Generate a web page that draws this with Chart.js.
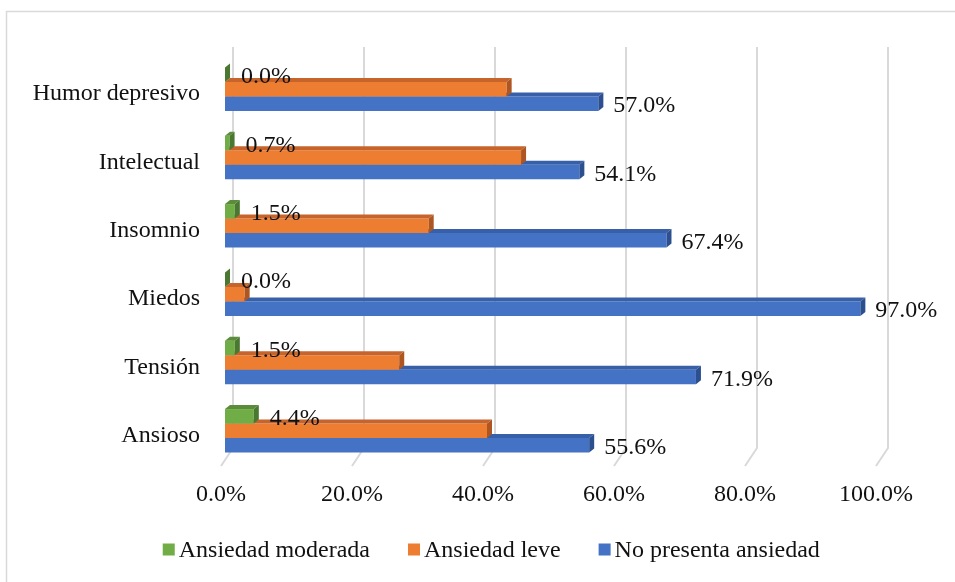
<!DOCTYPE html>
<html>
<head>
<meta charset="utf-8">
<script src="https://cdn.jsdelivr.net/npm/chart.js@4/dist/chart.umd.min.js"></script>
<style>
  html, body { margin: 0; padding: 0; background: #ffffff; }
  #wrap { width: 955px; height: 582px; position: relative; }
</style>
</head>
<body>
<div id="wrap"><canvas id="chart" width="955" height="582"></canvas></div>
<script>
// Categories, listed top to bottom
const categories = ['Humor depresivo', 'Intelectual', 'Insomnio', 'Miedos', 'Tensión', 'Ansioso'];

// Series values (%)
const ansiedadModerada = [0.0, 0.7, 1.5, 0.0, 1.5, 4.4];
const ansiedadLeve = [43.0, 45.2, 31.1, 3.0, 26.6, 40.0];
const noPresentaAnsiedad = [57.0, 54.1, 67.4, 97.0, 71.9, 55.6];

// Axis ticks (%)
const xTicks = [0, 20, 40, 60, 80, 100];

const seriesNames = ['Ansiedad moderada', 'Ansiedad leve', 'No presenta ansiedad'];

const FONT_FAMILY = '"Liberation Serif", "Times New Roman", serif';
const TEXT_COLOR = '#111111';
const GRID_COLOR = '#d9d9d9';

// Shaded top / side faces giving the bars their depth
const FACE_COLORS = [
  { top: '#5a8c3a', side: '#4b7830' },
  { top: '#c6642c', side: '#ad5622' },
  { top: '#3760a8', side: '#2c4f8f' }
];
const BAR_DEPTH = { dx: 5, dy: 4 };
const WALL_DEPTH = { dx: 8, top: 47, bottom: 448, floorDx: -4, floorY: 466 };

const pct = v => v.toFixed(1) + '%';

const depthPlugin = {
  id: 'depthBars',
  beforeDraw(chart) {
    const ctx = chart.ctx;
    ctx.save();
    ctx.strokeStyle = GRID_COLOR;
    ctx.lineWidth = 1.5;
    ctx.strokeRect(6.5, 11.5, 980, 620);
    ctx.restore();
  },
  beforeDatasetsDraw(chart) {
    // back-wall gridlines with their slanted floor feet
    const ctx = chart.ctx;
    const xs = chart.scales.x;
    ctx.save();
    ctx.strokeStyle = GRID_COLOR;
    ctx.lineWidth = 2;
    ctx.lineJoin = 'round';
    xTicks.forEach(v => {
      const px = xs.getPixelForValue(v);
      ctx.beginPath();
      ctx.moveTo(px + WALL_DEPTH.dx, WALL_DEPTH.top);
      ctx.lineTo(px + WALL_DEPTH.dx, WALL_DEPTH.bottom);
      ctx.lineTo(px + WALL_DEPTH.floorDx, WALL_DEPTH.floorY);
      ctx.stroke();
    });
    ctx.restore();
  },
  afterDatasetDraw(chart, args) {
    const ctx = chart.ctx;
    const faces = FACE_COLORS[args.index];
    const { dx, dy } = BAR_DEPTH;
    ctx.save();
    args.meta.data.forEach(bar => {
      const { x, y, base, height } = bar.getProps(['x', 'y', 'base', 'height'], true);
      const top = y - height / 2;
      const bottom = y + height / 2;
      // top face
      ctx.fillStyle = faces.top;
      ctx.beginPath();
      ctx.moveTo(base, top);
      ctx.lineTo(base + dx, top - dy);
      ctx.lineTo(x + dx, top - dy);
      ctx.lineTo(x, top);
      ctx.closePath();
      ctx.fill();
      // right side face
      ctx.fillStyle = faces.side;
      ctx.beginPath();
      ctx.moveTo(x, top);
      ctx.lineTo(x + dx, top - dy);
      ctx.lineTo(x + dx, bottom - dy);
      ctx.lineTo(x, bottom);
      ctx.closePath();
      ctx.fill();
    });
    ctx.restore();
  },
  afterDatasetsDraw(chart) {
    // value labels for the series that carry them
    const ctx = chart.ctx;
    ctx.save();
    ctx.font = '24px ' + FONT_FAMILY;
    ctx.fillStyle = TEXT_COLOR;
    ctx.textAlign = 'left';
    ctx.textBaseline = 'middle';
    chart.data.datasets.forEach((ds, i) => {
      if (!ds.showValues) return;
      const meta = chart.getDatasetMeta(i);
      meta.data.forEach((bar, j) => {
        const { x, y } = bar.getProps(['x', 'y'], true);
        ctx.fillText(pct(ds.data[j]), x + ds.labelGap, y + 2.5);
      });
    });
    ctx.restore();
  },
  afterDraw(chart) {
    // legend row
    const ctx = chart.ctx;
    ctx.save();
    ctx.font = '24px ' + FONT_FAMILY;
    ctx.textBaseline = 'alphabetic';
    ctx.textAlign = 'left';
    const box = 12, gap = 4, spacing = 38;
    const items = chart.data.datasets.map(ds => ({
      text: ds.label, color: ds.backgroundColor, w: ctx.measureText(ds.label).width
    }));
    const total = items.reduce((s, it) => s + box + gap + it.w, 0) + spacing * (items.length - 1);
    let x = 491.3 - total / 2;
    items.forEach(it => {
      ctx.fillStyle = it.color;
      ctx.fillRect(x, 543.5, box, box);
      ctx.fillStyle = TEXT_COLOR;
      ctx.fillText(it.text, x + box + gap, 557);
      x += box + gap + it.w + spacing;
    });
    ctx.restore();
  }
};

new Chart(document.getElementById('chart'), {
  type: 'bar',
  data: {
    labels: categories,
    datasets: [
      { label: seriesNames[0], data: ansiedadModerada, backgroundColor: '#70ad47', showValues: true, labelGap: 16 },
      { label: seriesNames[1], data: ansiedadLeve, backgroundColor: '#ed7d31', showValues: false },
      { label: seriesNames[2], data: noPresentaAnsiedad, backgroundColor: '#4472c4', showValues: true, labelGap: 15 }
    ]
  },
  options: {
    indexAxis: 'y',
    responsive: false,
    animation: false,
    datasets: { bar: { categoryPercentage: 0.637, barPercentage: 1.0, borderWidth: 0 } },
    layout: { padding: { top: 55, right: 75, bottom: 57, left: 0 } },
    plugins: { legend: { display: false }, tooltip: { enabled: false } },
    scales: {
      x: {
        min: 0,
        max: 100,
        afterBuildTicks(scale) { scale.ticks = xTicks.map(v => ({ value: v })); },
        afterFit(scale) { scale.height = 60; },
        ticks: {
          callback: v => pct(v),
          font: { family: FONT_FAMILY, size: 24 },
          color: TEXT_COLOR,
          padding: 15,
          labelOffset: -4,
          maxRotation: 0,
          autoSkip: false
        },
        grid: { display: false, drawTicks: false },
        border: { display: false }
      },
      y: {
        afterFit(scale) { scale.width = 225; },
        ticks: {
          font: { family: FONT_FAMILY, size: 24 },
          color: TEXT_COLOR,
          padding: 25,
          labelOffset: 5
        },
        grid: { display: false, drawTicks: false },
        border: { display: false }
      }
    }
  },
  plugins: [depthPlugin]
});
</script>
</body>
</html>
